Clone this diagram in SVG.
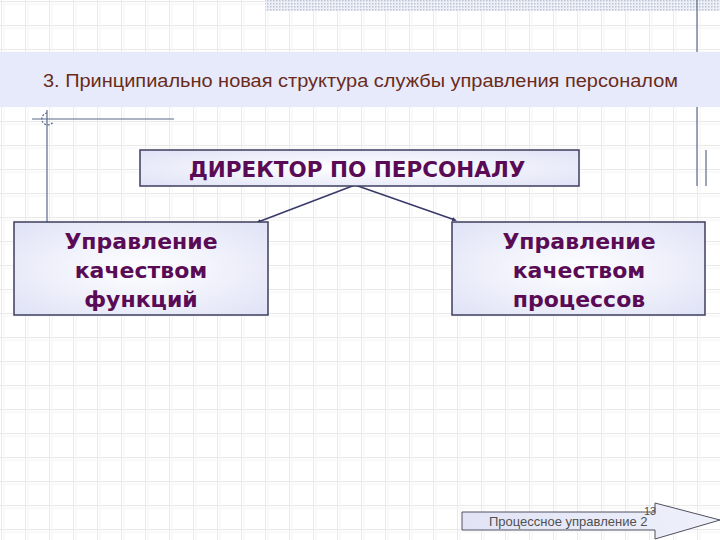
<svg xmlns="http://www.w3.org/2000/svg" width="720" height="540" viewBox="0 0 720 540">
<defs>
<pattern id="grid" x="1" y="1" width="24" height="24" patternUnits="userSpaceOnUse">
<path d="M0 0H24M0 0V24" fill="none" stroke="#e2e2e2" stroke-width="1.5"/>
<path d="M0 3H24M3 0V24" fill="none" stroke="#f4f4f4" stroke-width="1"/>
</pattern>
<pattern id="dots" width="3" height="3" patternUnits="userSpaceOnUse">
<rect width="3" height="3" fill="#eef0f6"/>
<rect width="1.5" height="1.5" fill="#b8c2d6"/>
</pattern>
<radialGradient id="boxfill" cx="0.5" cy="0.5" r="0.7">
<stop offset="0" stop-color="#ffffff"/>
<stop offset="1" stop-color="#dfe2f6"/>
</radialGradient>
<linearGradient id="arrfill" x1="0" y1="0" x2="1" y2="0">
<stop offset="0" stop-color="#e2e4f6"/>
<stop offset="1" stop-color="#eef0fa"/>
</linearGradient>
<marker id="dot" markerWidth="6" markerHeight="6" refX="3" refY="3" orient="auto" markerUnits="userSpaceOnUse">
<path d="M0 1L5 3L0 5Z" fill="#3a3a6a"/>
</marker>
<style>
.box{fill:url(#boxfill);stroke:#3e3e5e;stroke-width:1.5}
.bt{font-family:"DejaVu Sans",Verdana,sans-serif;font-weight:bold;fill:#5a0b55;text-anchor:middle}
.conn{fill:none;stroke:#3a3a6a;stroke-width:1.6}
.deco{stroke:#5a6a8a;stroke-width:1.2;fill:none}
</style>
</defs>
<rect width="720" height="540" fill="#ffffff"/>
<rect width="720" height="540" fill="url(#grid)"/>
<rect x="265" y="0" width="455" height="11" fill="url(#dots)"/>
<line x1="697" y1="0" x2="697" y2="186" class="deco"/>
<line x1="706" y1="150" x2="706" y2="186" class="deco"/>
<g id="title">
<rect x="0" y="52" width="720" height="55" fill="#e7eafa"/>
<text x="43" y="87" font-family="Liberation Sans, Arial, sans-serif" font-size="17.5" fill="#6a2a1c" textLength="635" lengthAdjust="spacingAndGlyphs">3. Принципиально новая структура службы управления персоналом</text>
</g>
<g id="decor">
<line x1="32" y1="119" x2="174" y2="119" class="deco"/>
<line x1="47" y1="110" x2="47" y2="222" class="deco"/>
<path d="M47 113A6 6 0 1 0 53 122" class="deco" stroke-dasharray="2 1.5"/>
</g>
<g id="connectors">
<path d="M355 185L258 222" class="conn" marker-end="url(#dot)"/>
<path d="M355 185L455 220" class="conn" marker-end="url(#dot)"/>
</g>
<g id="director">
<rect x="140" y="150" width="439" height="36" class="box"/>
<text x="357" y="177" class="bt" font-size="21.5">ДИРЕКТОР ПО ПЕРСОНАЛУ</text>
</g>
<g id="functions">
<rect x="14" y="222" width="254" height="93" class="box"/>
<text class="bt" font-size="22" x="141"><tspan x="141" y="249">Управление</tspan><tspan x="141" y="278">качеством</tspan><tspan x="141" y="307">функций</tspan></text>
</g>
<g id="processes">
<rect x="452" y="222" width="253" height="93" class="box"/>
<text class="bt" font-size="22" x="579"><tspan x="579" y="249">Управление</tspan><tspan x="579" y="278">качеством</tspan><tspan x="579" y="307">процессов</tspan></text>
</g>
<g id="footer">
<path d="M462 512H655V503L720 520L655 539V530H462Z" fill="url(#arrfill)" stroke="#505060" stroke-width="1"/>
<text x="489" y="526" font-family="Liberation Sans, Arial, sans-serif" font-size="13" fill="#505050">Процессное управление 2</text>
<text x="644" y="515" font-family="Liberation Sans, Arial, sans-serif" font-size="11" fill="#505050">13</text>
</g>
</svg>
